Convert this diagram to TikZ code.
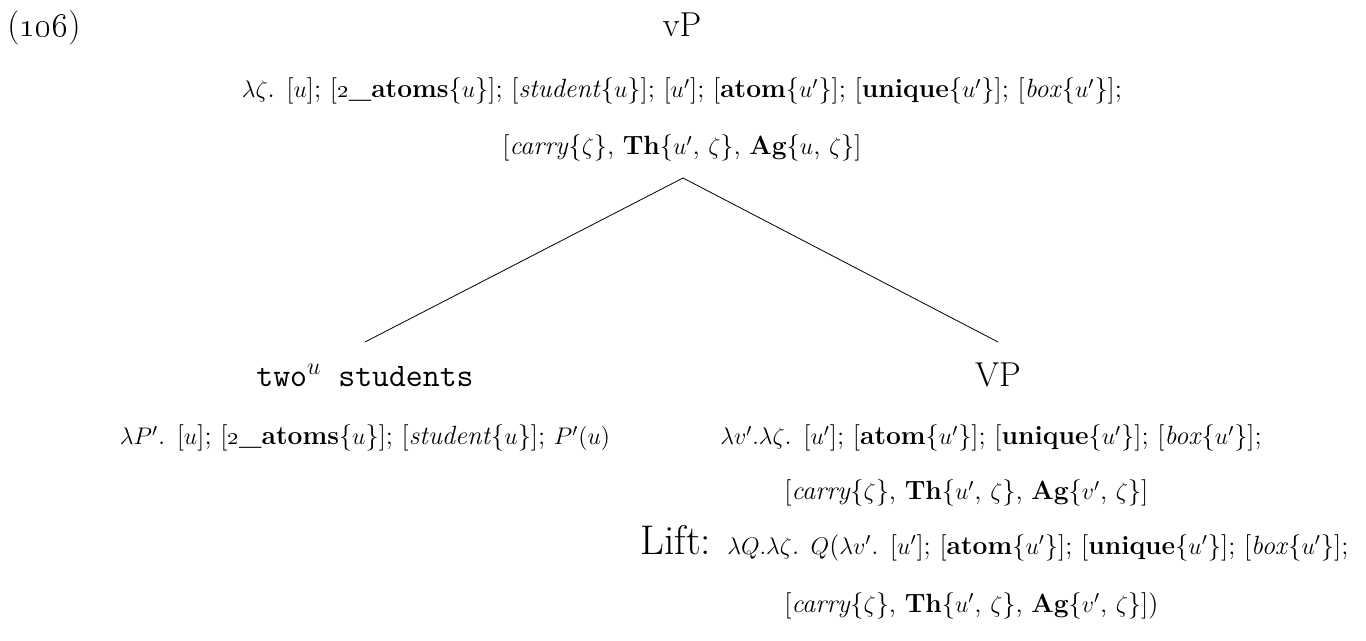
\documentclass[tikz,border=0pt]{standalone}
\usepackage{amsmath}
\newcommand{\bAtoms}{\textbf{\oldstylenums{2}\_atoms}}
\newcommand{\uP}{$u'$}

\begin{document}
\begin{tikzpicture}[x=0.5pt,y=-0.5pt]
\tikzset{cat/.style={anchor=base, inner sep=0pt, font=\LARGE},
  sem/.style={anchor=base west, inner sep=0pt, font=\fontsize{13.2}{15}\selectfont}}
\useasboundingbox (0,0) rectangle (1366,641);
\node[cat, anchor=base west] (exnum) at (7,37) {(\oldstylenums{106})};
\node[cat] (vP) at (682,37) {vP};
\node[sem, anchor=base] (vPsemA) at (682,98) {$\lambda\zeta$. [$u$]; [\bAtoms\{$u$\}]; [\textit{student}\{$u$\}]; [\uP]; [\textbf{atom}\{\uP\}]; [\textbf{unique}\{\uP\}]; [\textit{box}\{\uP\}];};
\node[sem, anchor=base] (vPsemB) at (682,155) {[\textit{carry}\{$\zeta$\}, \textbf{Th}\{\uP, $\zeta$\}, \textbf{Ag}\{$u$, $\zeta$\}]};
\coordinate (apex) at (683,178);
\coordinate (leftend) at (365,342);
\coordinate (rightend) at (998,342);
\draw (apex) -- (leftend);
\draw (apex) -- (rightend);
\node[cat, font=\fontsize{16.4}{20}\selectfont\ttfamily] (DP) at (365,387) {two$^u$ students};
\node[cat] (VP) at (998,387) {VP};
\node[sem, anchor=base] (DPsem) at (365,445) {$\lambda P'$. [$u$]; [\bAtoms\{$u$\}]; [\textit{student}\{$u$\}]; $P'(u)$};
\node[sem] (VPsemA) at (720,445) {$\lambda v'.\lambda\zeta$. [\uP]; [\textbf{atom}\{\uP\}]; [\textbf{unique}\{\uP\}]; [\textit{box}\{\uP\}];};
\node[sem] (VPsemB) at (784,500) {[\textit{carry}\{$\zeta$\}, \textbf{Th}\{\uP, $\zeta$\}, \textbf{Ag}\{$v'$, $\zeta$\}]};
\node[cat, anchor=base west, font=\huge] (lift) at (640,554) {Lift:};
\node[sem] (liftsemA) at (727,554) {$\lambda Q.\lambda\zeta$. $Q$($\lambda v'$. [\uP]; [\textbf{atom}\{\uP\}]; [\textbf{unique}\{\uP\}]; [\textit{box}\{\uP\}];};
\node[sem] (liftsemB) at (784,612) {[\textit{carry}\{$\zeta$\}, \textbf{Th}\{\uP, $\zeta$\}, \textbf{Ag}\{$v'$, $\zeta$\}])};
\end{tikzpicture}
\end{document}
